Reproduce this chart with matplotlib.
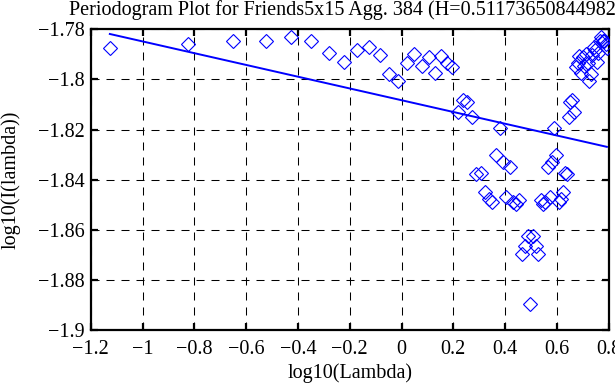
import matplotlib
matplotlib.use("Agg")
import matplotlib.pyplot as plt

# log10(Lambda) values (periodogram frequencies)
log_lambda = [
    -1.1261, -0.8251, -0.6490, -0.5240, -0.4271, -0.3480, -0.2810, -0.2230, -0.1719, -0.1261,
    -0.0847, -0.0469, -0.0122, 0.0200, 0.0500, 0.0780, 0.1044, 0.1292, 0.1527, 0.1749,
    0.1961, 0.2163, 0.2356, 0.2541, 0.2718, 0.2889, 0.3053, 0.3211, 0.3363, 0.3510,
    0.3653, 0.3791, 0.3924, 0.4054, 0.4180, 0.4302, 0.4421, 0.4537, 0.4650, 0.4760,
    0.4867, 0.4972, 0.5074, 0.5174, 0.5271, 0.5367, 0.5460, 0.5551, 0.5641, 0.5729,
    0.5815, 0.5899, 0.5982, 0.6063, 0.6143, 0.6221, 0.6298, 0.6373, 0.6448, 0.6521,
    0.6592, 0.6663, 0.6732, 0.6801, 0.6868, 0.6934, 0.7000, 0.7064, 0.7128, 0.7190,
    0.7252, 0.7312, 0.7372, 0.7431, 0.7490, 0.7547, 0.7604, 0.7660, 0.7715, 0.7770,
    0.7824, 0.7877, 0.7930,
]

# log10(I(lambda)) values
log_periodogram = [
    -1.7875, -1.7859, -1.7846, -1.7846, -1.7832, -1.7846, -1.7894, -1.7929, -1.7881, -1.7870,
    -1.7902, -1.7979, -1.8006, -1.7933, -1.7899, -1.7946, -1.7909, -1.7975, -1.7907, -1.7933,
    -1.7951, -1.8131, -1.8083, -1.8091, -1.8151, -1.8379, -1.8375, -1.8450, -1.8476, -1.8490,
    -1.8303, -1.8195, -1.8330, -1.8470, -1.8350, -1.8490, -1.8496, -1.8483, -1.8696, -1.8663,
    -1.8625, -1.8896, -1.8625, -1.8663, -1.8696, -1.8483, -1.8496, -1.8490, -1.8350, -1.8470,
    -1.8330, -1.8195, -1.8303, -1.8490, -1.8476, -1.8450, -1.8375, -1.8379, -1.8151, -1.8091,
    -1.8083, -1.8131, -1.7951, -1.7933, -1.7907, -1.7975, -1.7909, -1.7946, -1.7899, -1.7933,
    -1.8006, -1.7979, -1.7902, -1.7870, -1.7881, -1.7929, -1.7894, -1.7846, -1.7832, -1.7846,
    -1.7846, -1.7859, -1.7875,
]

hurst = 0.51173650844982
fit_intercept = -1.8083
fit_slope = 1 - 2 * hurst

x_ticks = [-1.2, -1.0, -0.8, -0.6, -0.4, -0.2, 0.0, 0.2, 0.4, 0.6, 0.8]
x_tick_labels = ["\u22121.2", "\u22121", "\u22120.8", "\u22120.6", "\u22120.4", "\u22120.2",
                 "0", "0.2", "0.4", "0.6", "0.8"]
y_ticks = [-1.78, -1.80, -1.82, -1.84, -1.86, -1.88, -1.90]
y_tick_labels = ["\u22121.78", "\u22121.8", "\u22121.82", "\u22121.84", "\u22121.86",
                 "\u22121.88", "\u22121.9"]

title = "Periodogram Plot for Friends5x15 Agg. 384 (H=0.51173650844982)"

plt.rcParams['font.family'] = ['Liberation Serif', 'DejaVu Serif']
FS = 14.5

fig = plt.figure(figsize=(6.15, 3.85), dpi=100)
ax = fig.add_axes([90.7 / 615, (385 - 330) / 385, (608.7 - 90.7) / 615, (330 - 29.3) / 385])

ax.plot(log_lambda, log_periodogram, linestyle='none', marker='D', markersize=7.0,
        markerfacecolor='none', markeredgecolor='#0000ff', markeredgewidth=0.8, zorder=3)

xs = [log_lambda[0], log_lambda[-1]]
ys = [fit_intercept + fit_slope * v for v in xs]
ax.plot(xs, ys, color='#0000ff', linewidth=1.4, zorder=4)

ax.set_xlim(-1.2, 0.8)
ax.set_ylim(-1.9, -1.78)
ax.set_xticks(x_ticks)
ax.set_xticklabels(x_tick_labels, fontsize=FS)
ax.set_yticks(y_ticks)
ax.set_yticklabels(y_tick_labels, fontsize=FS)

ax.grid(True, color='black', linewidth=0.75, linestyle=(0, (7.7, 6.7)))
ax.set_axisbelow(True)
for s in ax.spines.values():
    s.set_linewidth(1.6)
ax.tick_params(direction='in', top=True, right=True, length=5, width=1.6,
               pad=4.5, labelsize=FS)
ax.tick_params(axis='x', pad=7)

ax.set_xlabel("log10(Lambda)", fontsize=FS, labelpad=3.5)
fig.text(1.0 / 615, (385 - 180) / 385, "log10(I(lambda))", rotation=90,
         ha='left', va='center', fontsize=FS)
fig.text(68.8 / 615, 1 - 15.5 / 385, title, ha='left', va='baseline', fontsize=FS)

fig.savefig("out.png", dpi=100)
